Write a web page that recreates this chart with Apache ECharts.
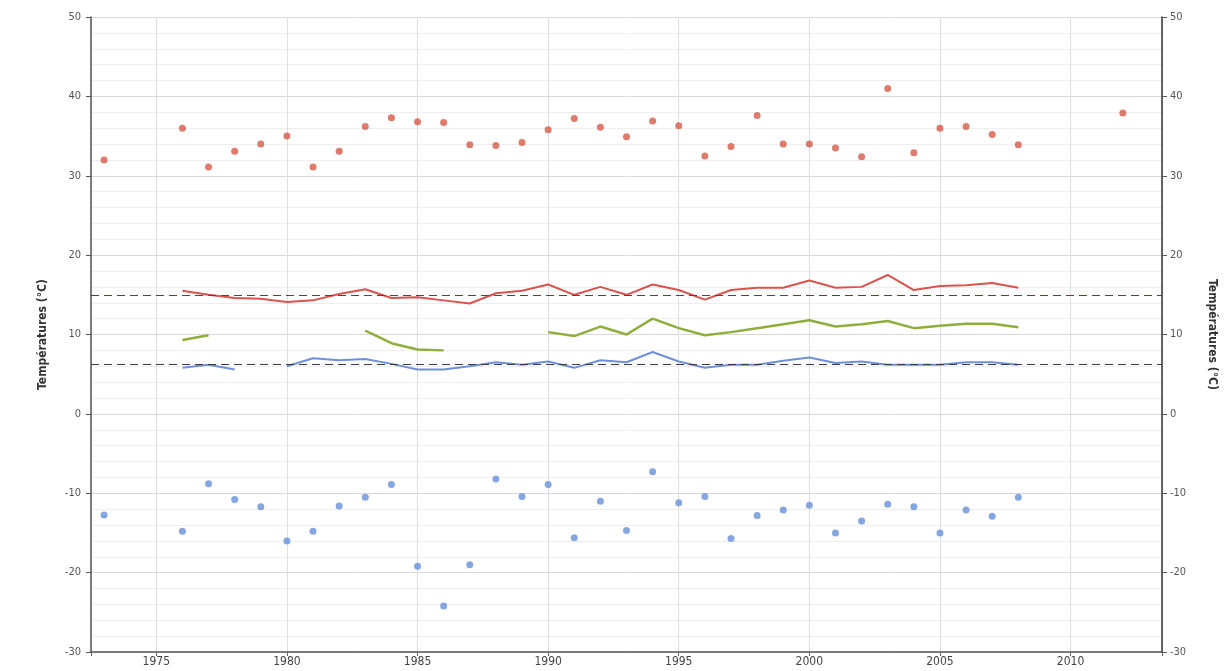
<!DOCTYPE html>
<html>
<head>
<meta charset="utf-8">
<script src="https://cdn.jsdelivr.net/npm/echarts@6/dist/echarts.min.js"></script>
<style>
  html, body { margin: 0; padding: 0; background: #fff; }
  #chart { width: 1231px; height: 671px; }
</style>
</head>
<body>
<div id="chart"></div>
<script>
// yearly extremes (dots)
const dotYears = [1973, 1976, 1977, 1978, 1979, 1980, 1981, 1982, 1983, 1984, 1985, 1986, 1987, 1988, 1989, 1990,
  1991, 1992, 1993, 1994, 1995, 1996, 1997, 1998, 1999, 2000, 2001, 2002, 2003, 2004, 2005, 2006, 2007, 2008, 2012]
const maxDots = [32.0, 36.0, 31.1, 33.1, 34.0, 35.0, 31.1, 33.1, 36.2, 37.3, 36.8, 36.7, 33.9, 33.8, 34.2, 35.8,
  37.2, 36.1, 34.9, 36.9, 36.3, 32.5, 33.7, 37.6, 34.0, 34.0, 33.5, 32.4, 41.0, 32.9, 36.0, 36.2, 35.2, 33.9, 37.9]
const minDots = [-12.75, -14.8, -8.8, -10.8, -11.7, -16.0, -14.8, -11.6, -10.5, -8.9, -19.2, -24.2, -19.0, -8.2, -10.4, -8.9,
  -15.6, -11.0, -14.7, -7.3, -11.2, -10.4, -15.7, -12.8, -12.1, -11.5, -15.0, -13.5, -11.4, -11.7, -15.0, -12.1, -12.9, -10.5, null]

// yearly means (lines)
const lineYears = [1976, 1977, 1978, 1979, 1980, 1981, 1982, 1983, 1984, 1985, 1986, 1987, 1988, 1989, 1990, 1991,
  1992, 1993, 1994, 1995, 1996, 1997, 1998, 1999, 2000, 2001, 2002, 2003, 2004, 2005, 2006, 2007, 2008]
const meanMax = [15.5, 15.0, 14.6, 14.5, 14.1, 14.3, 15.1, 15.7, 14.6, 14.7, 14.3, 13.9, 15.2, 15.5, 16.3, 15.0,
  16.0, 15.0, 16.3, 15.6, 14.4, 15.6, 15.9, 15.9, 16.8, 15.9, 16.0, 17.5, 15.6, 16.1, 16.2, 16.5, 15.9]
const meanDay = [9.3, 9.9, null, null, null, null, null, 10.5, 8.9, 8.1, 8.0, null, null, null, 10.3, 9.8,
  11.0, 10.0, 12.0, 10.8, 9.9, 10.3, 10.8, 11.3, 11.8, 11.0, 11.3, 11.7, 10.8, 11.1, 11.35, 11.35, 10.9]
const meanMin = [5.8, 6.2, 5.6, null, 6.0, 7.0, 6.75, 6.9, 6.3, 5.6, 5.6, 6.0, 6.5, 6.2, 6.6, 5.8,
  6.75, 6.5, 7.8, 6.6, 5.8, 6.2, 6.2, 6.7, 7.1, 6.4, 6.6, 6.2, 6.2, 6.2, 6.5, 6.5, 6.2]

// reference levels (dashed)
const refHigh = 15.0
const refLow = 6.2

const yearTicks = [1975, 1980, 1985, 1990, 1995, 2000, 2005, 2010]

const pair = (xs, ys) => xs.map((x, i) => [x, ys[i]])

const labelFont = "'Liberation Sans Narrow', 'DejaVu Sans Condensed', sans-serif"
const yName = 'Températures (°C)'

const myChart = echarts.init(document.getElementById('chart'))

const option = {
  backgroundColor: '#fff',
  animation: false,
  grid: { left: 91, right: 69, top: 17, bottom: 19 },
  xAxis: {
    type: 'value',
    min: 1972.5,
    max: 2013.5,
    splitNumber: 8,
    axisLine: { show: true, onZero: false, lineStyle: { color: '#555', width: 1.5 } },
    axisTick: { show: true, length: 4, lineStyle: { color: '#666' } },
    axisLabel: {
      color: '#444',
      fontSize: 12,
      fontFamily: labelFont,
      margin: 4,
      formatter: v => (yearTicks.includes(v) ? String(v) : '')
    },
    splitLine: { show: true, lineStyle: { color: '#dcdfea', width: 1 } }
  },
  yAxis: [
    {
      type: 'value',
      min: -30,
      max: 50,
      interval: 10,
      position: 'left',
      name: yName,
      nameLocation: 'middle',
      nameGap: 42,
      nameTextStyle: { color: '#333', fontSize: 12, fontWeight: 'bold', fontFamily: labelFont },
      axisLine: { show: true, lineStyle: { color: '#555', width: 1.5 } },
      axisTick: { show: true, length: 5, lineStyle: { color: '#555' } },
      axisLabel: { color: '#555', fontSize: 11, fontFamily: labelFont, margin: 10 },
      splitLine: { show: true, lineStyle: { color: '#d8d8d8', width: 1 } },
      minorTick: { show: false, splitNumber: 5 },
      minorSplitLine: { show: true, lineStyle: { color: '#eeeeee', width: 1 } }
    },
    {
      type: 'value',
      min: -30,
      max: 50,
      interval: 10,
      position: 'right',
      name: yName,
      nameLocation: 'middle',
      nameGap: 44,
      nameRotate: -90,
      nameTextStyle: { color: '#333', fontSize: 12, fontWeight: 'bold', fontFamily: labelFont },
      axisLine: { show: true, lineStyle: { color: '#333', width: 1.5 } },
      axisTick: { show: true, length: 5, lineStyle: { color: '#555' } },
      axisLabel: { color: '#555', fontSize: 11, fontFamily: labelFont, margin: 8 },
      splitLine: { show: false }
    }
  ],
  series: [
    {
      name: 'refs',
      type: 'line',
      data: [],
      markLine: {
        silent: true,
        symbol: 'none',
        label: { show: false },
        data: [
          { yAxis: refHigh, lineStyle: { color: '#8a2f2f', type: [8, 5], width: 1.2 } },
          { yAxis: refLow, lineStyle: { color: '#3a3a4a', type: [8, 5], width: 1.2 } }
        ]
      }
    },
    {
      name: 'max',
      type: 'scatter',
      symbolSize: 7,
      itemStyle: { color: '#d65a48' },
      data: pair(dotYears, maxDots)
    },
    {
      name: 'min',
      type: 'scatter',
      symbolSize: 7,
      itemStyle: { color: '#6690d8' },
      data: pair(dotYears, minDots).filter(d => d[1] !== null)
    },
    {
      name: 'meanMax',
      type: 'line',
      showSymbol: false,
      connectNulls: false,
      lineStyle: { color: '#d9534f', width: 2 },
      data: pair(lineYears, meanMax)
    },
    {
      name: 'meanDay',
      type: 'line',
      showSymbol: false,
      connectNulls: false,
      lineStyle: { color: '#8fae3e', width: 2.5 },
      data: pair(lineYears, meanDay)
    },
    {
      name: 'meanMin',
      type: 'line',
      showSymbol: false,
      connectNulls: false,
      lineStyle: { color: '#6f8fdc', width: 2 },
      data: pair(lineYears, meanMin)
    }
  ]
}

myChart.setOption(option)
</script>
</body>
</html>
